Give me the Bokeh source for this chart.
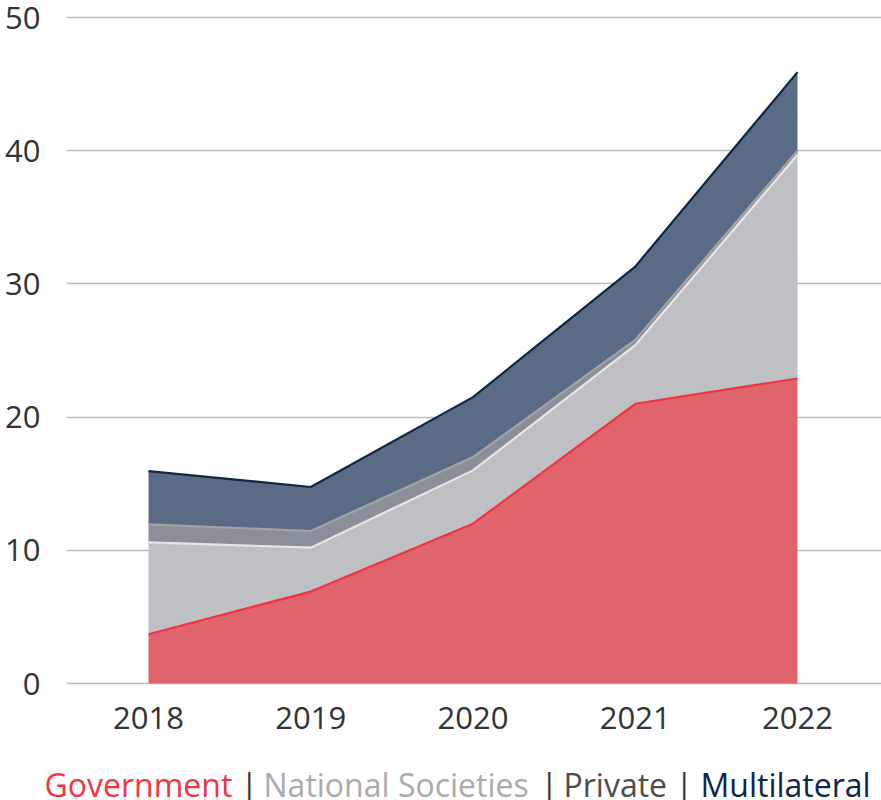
from bokeh.plotting import figure
from bokeh.models import ColumnDataSource, Range1d, FixedTicker
from bokeh.transform import stack
from bokeh.core.properties import value
from bokeh.embed import file_html
from bokeh.resources import INLINE

years = [2018, 2019, 2020, 2021, 2022]
government = [3.7, 6.9, 12.0, 21.0, 22.9]
national_societies = [6.9, 3.3, 4.0, 4.4, 16.8]
private = [1.35, 1.25, 1.0, 0.4, 0.3]
multilateral = [4.0, 3.3, 4.5, 5.5, 5.9]

series = ["government", "national_societies", "private", "multilateral"]
labels = ["Government", "National Societies", "Private", "Multilateral"]
fill_colors = ["#E0646B", "#BFC0C4", "#8A8F99", "#5A6B85"]
line_colors = ["#F5333F", "#E6E6E6", "#A3A3A3", "#0E2748"]
legend_colors = ["#F5333F", "#ABABAB", "#4D4D4D", "#0E2748"]
y_ticks = [0, 10, 20, 30, 40, 50]

source = ColumnDataSource(dict(
    year=years,
    government=government,
    national_societies=national_societies,
    private=private,
    multilateral=multilateral,
))

FONT = "Open Sans"
W, H = 881, 800
# pixel layout of the plotting area (page pixels)
PX_2018, PX_PER_YEAR = 148.0, 162.25
PY_0, PY_50 = 683.0, 17.0
PX_GRID_LEFT = 66.0
sy = (PY_0 - PY_50) / 50.0
X0 = years[0] - PX_2018 / PX_PER_YEAR
X1 = X0 + W / PX_PER_YEAR
Y1 = 50 + PY_50 / sy
Y0 = -(H - PY_0) / sy
X_GRID_LEFT = X0 + PX_GRID_LEFT / PX_PER_YEAR

p = figure(width=W, height=H, output_backend="svg", toolbar_location=None,
           x_range=Range1d(X0, X1), y_range=Range1d(Y0, Y1),
           min_border=0, outline_line_color=None,
           background_fill_color="white", border_fill_color="white")

p.varea_stack(stackers=series, x="year", color=fill_colors, source=source)
for i, c in enumerate(line_colors):
    p.line(x="year", y=stack(*series[: i + 1]), source=source,
           line_color=c, line_width=2.2)

# grid
p.xgrid.grid_line_color = None
p.ygrid.grid_line_color = "#BBBBBB"
p.ygrid.grid_line_width = 1.5
p.ygrid.ticker = FixedTicker(ticks=y_ticks)
p.ygrid.cross_bounds = (X_GRID_LEFT, X1)

# axes (placed inside the plotting area)
p.yaxis.ticker = FixedTicker(ticks=y_ticks)
p.xaxis.ticker = FixedTicker(ticks=years)
p.yaxis.fixed_location = X_GRID_LEFT
p.xaxis.fixed_location = 0
for ax in (p.xaxis[0], p.yaxis[0]):
    ax.axis_line_color = None
    ax.major_tick_line_color = None
    ax.minor_tick_line_color = None
    ax.major_tick_out = 0
    ax.major_tick_in = 0
    ax.minor_tick_out = 0
    ax.major_label_text_font = FONT
    ax.major_label_text_font_size = "31px"
    ax.major_label_text_color = "#333333"
p.yaxis.major_label_standoff = 26
p.xaxis.major_label_standoff = 23

# colored text legend below the chart
pieces = [(labels[0], legend_colors[0], 44),
          ("|", "#333333", 240),
          (labels[1], legend_colors[1], 263),
          ("|", "#333333", 540),
          (labels[2], legend_colors[2], 563),
          ("|", "#333333", 675),
          (labels[3], legend_colors[3], 700)]
lg = ColumnDataSource(dict(
    x=[X0 + px / PX_PER_YEAR for _, _, px in pieces],
    y=[0] * len(pieces),
    t=[t for t, _, _ in pieces],
    c=[c for _, c, _ in pieces],
))
p.text(x="x", y="y", text="t", text_color="c", source=lg, y_offset=101,
       text_font=value(FONT), text_font_size="32px",
       text_align="left", text_baseline="alphabetic")

open("out.html", "w").write(file_html(p, INLINE))
